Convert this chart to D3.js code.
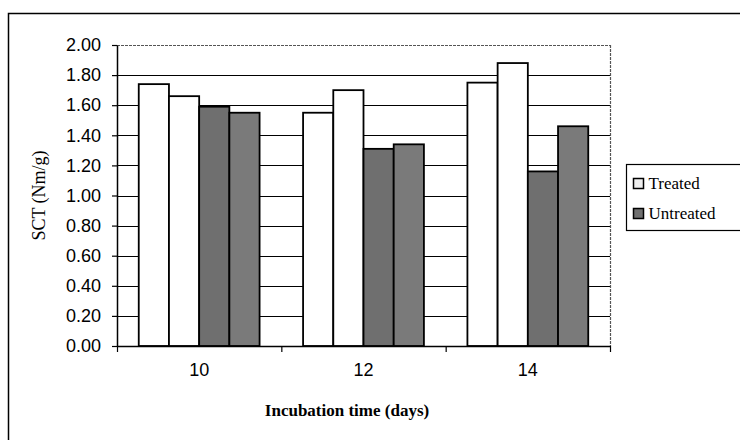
<!DOCTYPE html>
<html>
<head>
<meta charset="utf-8">
<script src="https://cdn.jsdelivr.net/npm/d3@7"></script>
<style>
  body { margin: 0; background: #fff; }
  svg { display: block; }
  .tick-label { font-family: "Liberation Sans", Arial, sans-serif; font-size: 18px; fill: #000; }
  .serif { font-family: "Liberation Serif", "DejaVu Serif", serif; fill: #000; }
</style>
</head>
<body>
<div id="chart"></div>
<script>
// data
const categories = ["10", "12", "14"];
const treated1 = [1.74, 1.55, 1.75];
const treated2 = [1.66, 1.70, 1.88];
const untreated1 = [1.59, 1.31, 1.16];
const untreated2 = [1.55, 1.34, 1.46];
const yTicks = [0, 0.2, 0.4, 0.6, 0.8, 1.0, 1.2, 1.4, 1.6, 1.8, 2.0];

const bars = ["t1", "t2", "u1", "u2"];
const seriesVals = {t1: treated1, t2: treated2, u1: untreated1, u2: untreated2};
const fills = {t1: "#ffffff", t2: "#ffffff", u1: "#6f6f6f", u2: "#7a7a7a"};

const W = 740, H = 440;
const margin = {top: 45, right: 130, bottom: 94, left: 117};
const width = W - margin.left - margin.right,
      height = H - margin.top - margin.bottom;

const svg = d3.select("#chart").append("svg")
    .attr("width", W)
    .attr("height", H);

// outer chart frame
svg.append("path")
    .attr("d", "M8.5,440 V13.5 H740")
    .attr("fill", "none")
    .attr("stroke", "#000")
    .attr("stroke-width", 1.5);

const g = svg.append("g")
    .attr("transform", `translate(${margin.left},${margin.top})`);

const x = d3.scaleBand()
    .domain(categories)
    .range([0, width])
    .padding(0);

const xSub = d3.scaleBand()
    .domain(bars)
    .range([0, x.bandwidth()])
    .paddingInner(0)
    .paddingOuter(0.72);

const y = d3.scaleLinear()
    .domain([0, 2])
    .range([height, 0]);

// gridlines
g.selectAll(".grid")
    .data(yTicks.filter(d => d > 0))
    .enter()
    .append("line")
    .attr("x1", 0)
    .attr("x2", width)
    .attr("y1", d => Math.round(y(d)) + 0.5)
    .attr("y2", d => Math.round(y(d)) + 0.5)
    .attr("stroke", d => d === 2 ? "#555" : "#000")
    .attr("stroke-dasharray", d => d === 2 ? "3,1" : null)
    .attr("stroke-width", 1.2);

// right border of plot, dotted
g.append("line")
    .attr("x1", width + 0.5).attr("x2", width + 0.5)
    .attr("y1", 0).attr("y2", height)
    .attr("stroke", "#555")
    .attr("stroke-dasharray", "3,1")
    .attr("stroke-width", 1.2);

// bars
const groups = g.selectAll(".group")
    .data(categories)
    .enter()
    .append("g")
    .attr("transform", d => `translate(${x(d)},0)`);

groups.selectAll("rect")
    .data((c, i) => bars.map(k => ({key: k, value: seriesVals[k][i]})))
    .enter()
    .append("rect")
    .attr("x", d => xSub(d.key))
    .attr("y", d => y(d.value))
    .attr("width", xSub.bandwidth())
    .attr("height", d => height - y(d.value))
    .attr("fill", d => fills[d.key])
    .attr("stroke", "#000")
    .attr("stroke-width", 1.8);

// y axis
const yAxis = g.append("g")
    .call(d3.axisLeft(y).tickValues(yTicks).tickFormat(d3.format(".2f")).tickSize(5).tickSizeOuter(0));
yAxis.select(".domain").attr("stroke", "#000").attr("stroke-width", 1.5);
yAxis.selectAll(".tick line").attr("stroke-width", 1.2);
yAxis.selectAll("text").attr("class", "tick-label").attr("x", -16);
yAxis.attr("font-size", null).attr("font-family", null);

// x axis
const xAxis = g.append("g")
    .attr("transform", `translate(0,${height})`)
    .call(d3.axisBottom(x).tickSize(0).tickSizeOuter(0));
xAxis.select(".domain").attr("stroke", "#000").attr("stroke-width", 1.5);
xAxis.selectAll("text").attr("class", "tick-label").attr("dy", "1.5em");
xAxis.attr("font-size", null).attr("font-family", null);

// tick marks at band boundaries
g.selectAll(".xtick")
    .data(categories.concat(["end"]))
    .enter()
    .append("line")
    .attr("x1", d => d === "end" ? width + 0.5 : x(d) + 0.5)
    .attr("x2", d => d === "end" ? width + 0.5 : x(d) + 0.5)
    .attr("y1", height)
    .attr("y2", height + 6)
    .attr("stroke", "#000")
    .attr("stroke-width", 1.2);

// axis titles
svg.append("text")
    .attr("class", "serif")
    .attr("x", 347)
    .attr("y", 416)
    .attr("text-anchor", "middle")
    .style("font-size", "17px")
    .style("font-weight", "bold")
    .text("Incubation time (days)");

svg.append("text")
    .attr("class", "serif")
    .attr("transform", `translate(45,${margin.top + height / 2}) rotate(-90)`)
    .attr("text-anchor", "middle")
    .style("font-size", "18px")
    .text("SCT (Nm/g)");

// legend
const legend = svg.append("g")
    .attr("transform", "translate(626.5,164.5)");

legend.append("rect")
    .attr("width", 130)
    .attr("height", 66)
    .attr("fill", "#fff")
    .attr("stroke", "#000")
    .attr("stroke-width", 1.2);

const legendItems = [
    {label: "Treated", fill: "#eeeeee"},
    {label: "Untreated", fill: "#6f6f6f"}
];

const li = legend.selectAll(".item")
    .data(legendItems)
    .enter()
    .append("g")
    .attr("transform", (d, i) => `translate(7,${19 + i * 30})`);

li.append("rect")
    .attr("y", -5)
    .attr("width", 10)
    .attr("height", 10)
    .attr("fill", d => d.fill)
    .attr("stroke", "#000")
    .attr("stroke-width", 1.5);

li.append("text")
    .attr("class", "serif")
    .attr("x", 15)
    .attr("y", 5)
    .style("font-size", "17px")
    .text(d => d.label);
</script>
</body>
</html>
